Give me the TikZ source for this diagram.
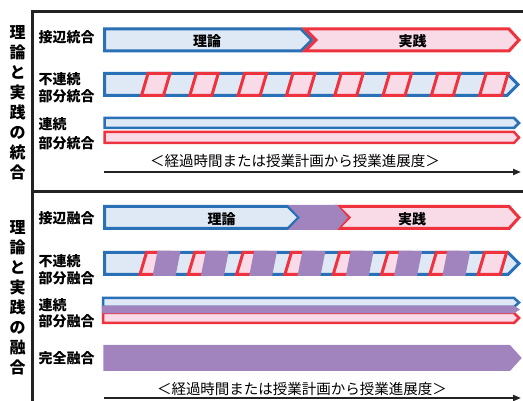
\documentclass[tikz,border=0pt]{standalone}
\usepackage{fontspec}
\setmainfont{Noto Sans CJK JP}
\usetikzlibrary{arrows.meta}
\definecolor{cblue}{RGB}{41,112,182}
\definecolor{cltblue}{RGB}{222,233,245}
\definecolor{cred}{RGB}{238,50,62}
\definecolor{cpink}{RGB}{249,219,232}
\definecolor{cpurple}{RGB}{161,132,189}
\definecolor{cframe}{RGB}{35,35,35}
\tikzset{
  bluebar/.style={draw=cblue,fill=cltblue,line width=3pt},
  redbar/.style={draw=cred,fill=cpink,line width=3pt},
  thinblue/.style={draw=cblue,fill=cltblue,line width=2.5pt},
  thinred/.style={draw=cred,fill=cpink,line width=2.5pt},
  purp/.style={fill=cpurple,draw=none},
  lbl/.style={font=\fontsize{14}{16}\selectfont\bfseries,anchor=west,inner sep=0pt},
  side/.style={font=\fontsize{16}{20}\selectfont\bfseries,align=center,inner sep=0pt},
  bartext/.style={font=\fontsize{14}{16}\selectfont\bfseries,inner sep=0pt},
  axislabel/.style={font=\fontsize{14.5}{16}\selectfont,inner sep=0pt},
  axisline/.style={line width=2pt,draw=cframe,-{Triangle[length=8pt,width=6pt]}},
  frameline/.style={draw=cframe}
}
\begin{document}
\begin{tikzpicture}[x=1pt,y=-1pt]
\useasboundingbox (0,0) rectangle (523,401);
% frame
\draw[frameline,line width=2.5pt] (32,11.5) -- (523,11.5);
\draw[frameline,line width=2.3pt] (32.5,10.5) -- (32.5,401);
\draw[frameline,line width=3pt] (32,191.5) -- (523,191.5);
% side labels
\node[side] (sideA) at (17.5,103) {理\\論\\と\\実\\践\\の\\統\\合};
\node[side] (sideB) at (17.5,297.5) {理\\論\\と\\実\\践\\の\\融\\合};
% row labels
\node[lbl] (l1) at (38.5,37.5) {接辺統合};
\node[lbl] (l2a) at (38.5,79.2) {不連続};
\node[lbl] (l2b) at (38.5,95.8) {部分統合};
\node[lbl] (l3a) at (38.5,124.2) {連続};
\node[lbl] (l3b) at (38.5,143.3) {部分統合};
\node[lbl] (l4) at (38.5,218.5) {接辺融合};
\node[lbl] (l5a) at (38.5,260.8) {不連続};
\node[lbl] (l5b) at (38.5,278.3) {部分融合};
\node[lbl] (l6a) at (38.5,305) {連続};
\node[lbl] (l6b) at (38.5,321.7) {部分融合};
\node[lbl] (l7) at (38.5,358.5) {完全融合};
% row 1
\draw[bluebar] (104.5,29) -- (301,29) -- (312,40) -- (301,51) -- (104.5,51) -- cycle;
\draw[redbar] (305,29) -- (509,29) -- (519,40) -- (509,51) -- (305,51) -- (316,40) -- cycle;
\node[bartext] (t1a) at (207,41.5) {理論};
\node[bartext] (t1b) at (412.5,41) {実践};
% row 2
\draw[bluebar] (104.5,73.5) -- (507,73.5) -- (518,84.5) -- (507,95.5) -- (104.5,95.5) -- cycle;
\foreach \k in {0,...,7}{
  \pgfmathsetmacro{\xo}{140+48.3*\k}
  \draw[redbar] (\xo+1.5,95.5) -- (\xo+23.5,95.5) -- (\xo+30,73.5) -- (\xo+8,73.5) -- cycle;
}
% row 3
\draw[thinblue] (104.5,118) -- (514,118) -- (519,123) -- (514,128) -- (104.5,128) -- cycle;
\draw[thinred] (104.5,132) -- (514,132) -- (519,137.5) -- (514,143) -- (104.5,143) -- cycle;
% axis 1
\node[axislabel] (ax1label) at (295,161) {＜経過時間または授業計画から授業進展度＞};
\coordinate (ax1s) at (104,172);
\coordinate (ax1e) at (521,172);
\draw[axisline] (ax1s) -- (ax1e);
% row 4
\draw[bluebar] (104.5,206.5) -- (288,206.5) -- (299,217.5) -- (288,228.5) -- (104.5,228.5) -- cycle;
\draw[redbar] (338,206.5) -- (509,206.5) -- (519,217.5) -- (509,228.5) -- (338,228.5) -- (349,217.5) -- cycle;
\fill[purp] (288,205) -- (337,205) -- (348,217.5) -- (337,230) -- (288,230) -- (300,217.5) -- cycle;
\node[bartext] (t4a) at (221.5,219) {理論};
\node[bartext] (t4b) at (412,219.5) {実践};
% row 5
\draw[bluebar] (104.5,252.5) -- (508,252.5) -- (519,263.5) -- (508,274.5) -- (104.5,274.5) -- cycle;
\foreach \k in {0,...,7}{
  \pgfmathsetmacro{\xo}{138.5+48.3*\k}
  \draw[redbar] (\xo+1.5,274.5) -- (\xo+23.5,274.5) -- (\xo+30,252.5) -- (\xo+8,252.5) -- cycle;
}
\foreach \k in {0,...,6}{
  \pgfmathsetmacro{\xo}{138.5+48.3*\k}
  \fill[purp] (\xo+14,276) -- (\xo+37,276) -- (\xo+42,251) -- (\xo+19,251) -- cycle;
}
% row 6
\draw[thinblue] (103,298) -- (514,298) -- (519,302.5) -- (514,307) -- (103,307) -- cycle;
\draw[thinred] (103,313) -- (514,313) -- (519,318) -- (514,323) -- (103,323) -- cycle;
\fill[purp] (101.7,305.7) -- (514,305.7) -- (520,309.5) -- (514,313.3) -- (101.7,313.3) -- cycle;
% row 7
\fill[purp] (103.3,345) -- (510,345) -- (521.7,358) -- (510,371) -- (103.3,371) -- cycle;
% axis 2
\node[axislabel] (ax2label) at (302,388.5) {＜経過時間または授業計画から授業進展度＞};
\coordinate (ax2s) at (104,398);
\coordinate (ax2e) at (521,398);
\draw[axisline] (ax2s) -- (ax2e);
\end{tikzpicture}
\end{document}
